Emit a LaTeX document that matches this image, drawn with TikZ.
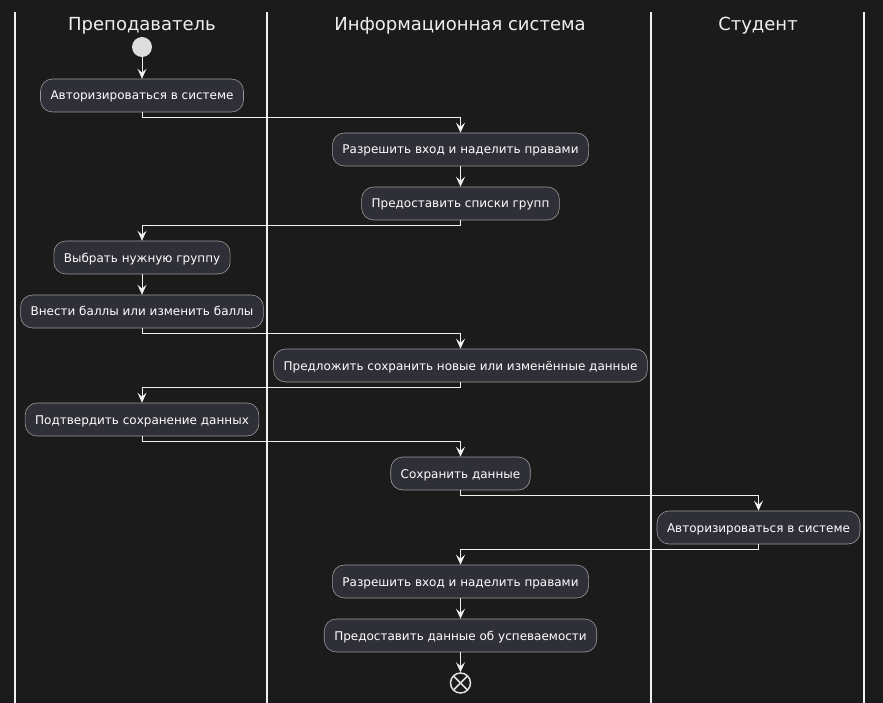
\documentclass[tikz,border=0pt]{standalone}
\usepackage{fontspec}
\setmainfont{DejaVu Sans}
\usetikzlibrary{arrows.meta,calc}
\definecolor{bg}{HTML}{1B1B1B}
\definecolor{boxfill}{HTML}{2F2F38}
\definecolor{boxline}{HTML}{9A9A9A}
\definecolor{fg}{HTML}{F0F0F0}
\definecolor{dot}{HTML}{DDDDDD}
\tikzset{
  act/.style={draw=boxline, fill=boxfill, rounded corners=12pt, text=white,
    font=\fontsize{12}{14}\selectfont, minimum height=33pt, inner xsep=10pt, line width=0.6pt,
    text height=9.5pt, text depth=0.5pt},
  flow/.style={draw=fg, line width=0.9pt, -{Stealth[length=10pt,width=9pt,inset=4pt]}},
  lane/.style={draw=fg, line width=1.2pt},
  hdr/.style={text=fg, font=\fontsize{18}{20}\selectfont},
}
\begin{document}
\begin{tikzpicture}[x=1pt,y=-1pt]
\fill[bg] (0,0) rectangle (883,703);
\useasboundingbox (0,0) rectangle (883,703);
% lanes
\coordinate (l0t) at (15,12); \coordinate (l0b) at (15,703);
\coordinate (l1t) at (267,12); \coordinate (l1b) at (267,703);
\coordinate (l2t) at (651,12); \coordinate (l2b) at (651,703);
\coordinate (l3t) at (864,12); \coordinate (l3b) at (864,703);
\draw[lane] (l0t) -- (l0b);
\draw[lane] (l1t) -- (l1b);
\draw[lane] (l2t) -- (l2b);
\draw[lane] (l3t) -- (l3b);
\node[hdr] (h1) at (142,25.5) {Преподаватель};
\node[hdr] (h2) at (460,25.5) {Информационная система};
\node[hdr] (h3) at (758,25.5) {Студент};
% start
\node[circle, fill=dot, minimum size=20pt, inner sep=0pt] (start) at (142,47) {};
% activities
\node[act] (a1) at (142,95.5) {Авторизироваться в системе};
\node[act] (a2) at (460.5,149.5) {Разрешить вход и наделить правами};
\node[act] (a3) at (460.5,203.5) {Предоставить списки групп};
\node[act] (a4) at (142,257.5) {Выбрать нужную группу};
\node[act] (a5) at (142,311.5) {Внести баллы или изменить баллы};
\node[act] (a6) at (460.5,365.5) {Предложить сохранить новые или изменённые данные};
\node[act] (a7) at (142,419.5) {Подтвердить сохранение данных};
\node[act] (a8) at (460.5,473.5) {Сохранить данные};
\node[act] (a9) at (758.5,527.5) {Авторизироваться в системе};
\node[act] (a10) at (460.5,581.5) {Разрешить вход и наделить правами};
\node[act] (a11) at (460.5,635.5) {Предоставить данные об успеваемости};
% end
\node[circle, draw=dot, line width=1.5pt, fill=bg, minimum size=20pt, inner sep=0pt] (end) at (460.5,683) {};
\draw[dot, line width=1.5pt] ($(end.center)+(-6.5,-6.5)$) -- ($(end.center)+(6.5,6.5)$);
\draw[dot, line width=1.5pt] ($(end.center)+(-6.5,6.5)$) -- ($(end.center)+(6.5,-6.5)$);
% flows
\draw[flow] (start) -- (a1);
\draw[flow] (a1.south) -- ++(0,5) -| (a2.north);
\draw[flow] (a2) -- (a3);
\draw[flow] (a3.south) -- ++(0,5) -| (a4.north);
\draw[flow] (a4) -- (a5);
\draw[flow] (a5.south) -- ++(0,5) -| (a6.north);
\draw[flow] (a6.south) -- ++(0,5) -| (a7.north);
\draw[flow] (a7.south) -- ++(0,5) -| (a8.north);
\draw[flow] (a8.south) -- ++(0,5) -| (a9.north);
\draw[flow] (a9.south) -- ++(0,5) -| (a10.north);
\draw[flow] (a10) -- (a11);
\draw[flow] (a11) -- (end);
\end{tikzpicture}
\end{document}
